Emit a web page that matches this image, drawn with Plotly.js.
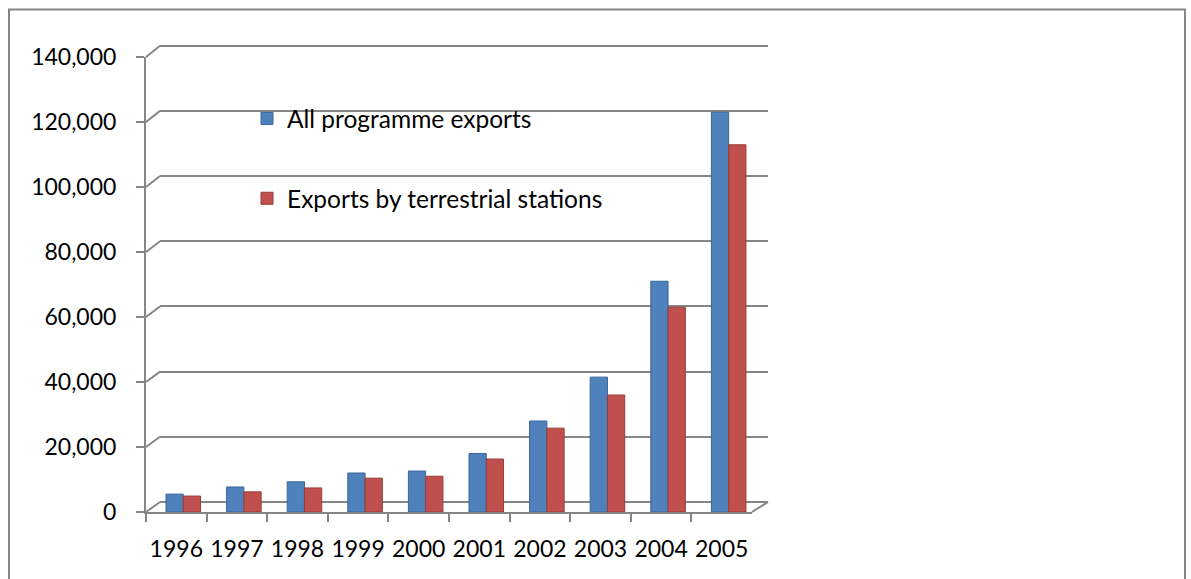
<!DOCTYPE html>
<html>
<head>
<meta charset="utf-8">
<script src="https://cdn.plot.ly/plotly-3.0.1.min.js"></script>
<style>html,body{margin:0;padding:0;background:#fff;}#chart{width:1191px;height:579px;}</style>
</head>
<body>
<div id="chart"></div>
<script>
// ---- data ----
const years = ['1996','1997','1998','1999','2000','2001','2002','2003','2004','2005'];
const allExports = [5500, 7700, 9300, 12000, 12600, 18000, 28000, 41500, 71000, 123000];
const terrestrialExports = [4900, 6200, 7400, 10400, 11000, 16300, 25800, 36000, 63000, 113000];
const seriesNames = ['All programme exports', 'Exports by terrestrial stations'];
const yTicks = [0, 20000, 40000, 60000, 80000, 100000, 120000, 140000];

// ---- geometry helpers (pixel -> paper) ----
const W = 1191, H = 579;
const px = v => v / W;
const py = v => 1 - v / H;
const GRID = '#868686';
const FONT = 'Lato, "Open Sans", sans-serif';

// front plane (axes) and back wall (grid)
const front = {x0: 146, x1: 752, y0: 512, y1: 57};
const back = {x0: 160, x1: 768, y0: 502, y1: 45.7};
const frontScale = (front.y0 - front.y1) / 140000;
const backScale = (back.y0 - back.y1) / 140000;
const backMax = 142000;

const traces = [
  {
    type: 'bar', x: years, y: allExports, name: seriesNames[0],
    xaxis: 'x2', yaxis: 'y2', offset: -0.17, width: 0.285,
    marker: {color: '#4F81BD', line: {color: '#3A6699', width: 1}},
    legendgroup: 'a', hoverinfo: 'x+y'
  },
  {
    type: 'bar', x: years, y: terrestrialExports, name: seriesNames[1],
    xaxis: 'x2', yaxis: 'y2', offset: 0.115, width: 0.285,
    marker: {color: '#C0504D', line: {color: '#9A3B38', width: 1}},
    legendgroup: 'b', hoverinfo: 'x+y'
  },
  // invisible helper so the back-wall grid subplot exists
  {type: 'scatter', x: [0], y: [0], xaxis: 'x', yaxis: 'y', mode: 'markers',
   marker: {opacity: 0}, showlegend: false, hoverinfo: 'skip'}
];

// decorative 3D-ish connectors
const shapes = [];
yTicks.forEach(v => {
  const yf = front.y0 - v * frontScale;
  const yb = back.y0 - v * backScale;
  shapes.push({type: 'line', xref: 'paper', yref: 'paper',
    x0: px(front.x0), y0: py(yf), x1: px(back.x0), y1: py(yb),
    line: {color: GRID, width: 2}});
});
// floor right edge
shapes.push({type: 'line', xref: 'paper', yref: 'paper',
  x0: px(front.x1), y0: py(front.y0), x1: px(back.x1), y1: py(back.y0),
  line: {color: GRID, width: 2}});
// outer border
shapes.push({type: 'rect', xref: 'paper', yref: 'paper',
  x0: px(9), y0: -0.05, x1: px(1185), y1: py(9.5),
  line: {color: GRID, width: 2}, fillcolor: 'rgba(0,0,0,0)', layer: 'below'});

const layout = {
  width: W, height: H,
  margin: {l: 0, r: 0, t: 0, b: 0},
  paper_bgcolor: '#ffffff', plot_bgcolor: 'rgba(0,0,0,0)',
  font: {family: FONT, size: 22, color: '#000000'},
  barmode: 'overlay',
  showlegend: true,
  legend: {
    x: px(247), y: py(96), xanchor: 'left', yanchor: 'top',
    bgcolor: 'rgba(0,0,0,0)', traceorder: 'grouped', tracegroupgap: 45,
    itemwidth: 30,
    font: {family: FONT, size: 24.5, color: '#000000'}
  },
  // back wall grid
  xaxis: {domain: [px(back.x0), px(back.x1)], range: [0, 1], visible: false, fixedrange: true},
  yaxis: {
    domain: [py(back.y0), py(back.y0 - backMax * backScale)], range: [0, backMax], anchor: 'x',
    tickvals: yTicks, showgrid: true, gridcolor: GRID, gridwidth: 2,
    showticklabels: false, zeroline: true, zerolinecolor: GRID, zerolinewidth: 2,
    showline: false, ticks: ''
  },
  // front axes
  xaxis2: {
    domain: [px(front.x0), px(front.x1)], anchor: 'y2', type: 'category',
    range: [-0.5, 9.5], showgrid: false, zeroline: false,
    showline: true, linecolor: GRID, linewidth: 2,
    ticks: 'outside', ticklen: 8, tickcolor: GRID, tickwidth: 2, tickson: 'boundaries',
    ticklabelstandoff: 15, tickangle: 0,
    tickfont: {family: FONT, size: 23, color: '#000000'}
  },
  yaxis2: {
    domain: [py(front.y0), py(front.y1)], anchor: 'x2', range: [0, 140000],
    tickvals: yTicks, tickformat: ',d', showgrid: false, zeroline: false,
    showline: true, linecolor: GRID, linewidth: 2,
    ticks: 'outside', ticklen: 8, tickcolor: GRID, tickwidth: 2,
    ticklabelstandoff: 15,
    tickfont: {family: FONT, size: 23, color: '#000000'}
  },
  shapes: shapes
};

Plotly.newPlot('chart', traces, layout, {displayModeBar: false, staticPlot: true});
</script>
</body>
</html>
